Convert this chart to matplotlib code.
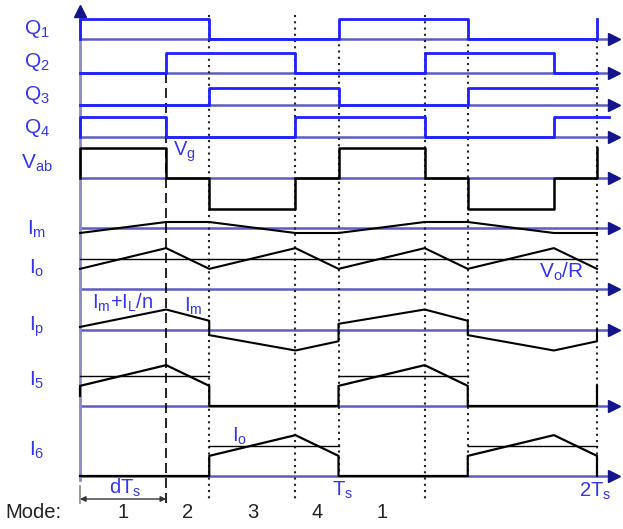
import numpy as np
import matplotlib
matplotlib.use('Agg')
import matplotlib.pyplot as plt

plt.rcParams['font.family'] = ['Liberation Sans', 'DejaVu Sans']
plt.rcParams['mathtext.fontset'] = 'custom'
plt.rcParams['mathtext.rm'] = 'Liberation Sans'
plt.rcParams['mathtext.it'] = 'Liberation Sans'
plt.rcParams['mathtext.default'] = 'regular'

d = 1 / 3
# switching instants, in units of Ts
t_sw = [0, d, 0.5, 0.5 + d, 1, 1 + d, 1.5, 1.5 + d, 2]

# gate / bridge states per interval
q1 = [1, 1, 0, 0, 1, 1, 0, 0]
q2 = [0, 1, 1, 0, 0, 1, 1, 0]
q3 = [0, 0, 1, 1, 0, 0, 1, 1]
q4 = [1, 0, 0, 1, 1, 0, 0, 1]
vab = [1, 0, -1, 0, 1, 0, -1, 0]

# currents at the switching instants
im = [-1, 1, 1, -1, -1, 1, 1, -1, -1]
io = [0.66, 1.34, 0.66, 1.34, 0.66, 1.34, 0.66, 1.34, 0.66]

t_ip = [0, d, 0.5, 0.5, 0.5 + d, 1, 1, 1 + d, 1.5, 1.5, 1.5 + d, 2, 2]
ip = [0.15, 1.0, 0.45, -0.25, -1.0, -0.55, 0.3, 1.0, 0.45, -0.25, -1.0, -0.55, 0]

t_i5 = [0, 0, d, 0.5, 0.5, 1, 1, 1 + d, 1.5, 1.5, 2, 2]
i5 = [0.33, 0.66, 1.34, 0.66, 0, 0, 0.66, 1.34, 0.66, 0, 0, 0.66]
t_i6 = [0, 0.5, 0.5, 0.5 + d, 1, 1, 1.5, 1.5, 1.5 + d, 2, 2]
i6 = [0, 0, 0.66, 1.34, 0.66, 0, 0, 0.66, 1.34, 0.66, 0]

mode_t = [d / 2, d + (0.5 - d) / 2, 0.5 + d / 2, 0.5 + d + (0.5 - d) / 2, 1 + d / 2]
mode_lbl = ['1', '2', '3', '4', '1']

BLUE = '#1f1fff'
AXC = '#5c5cc4'
ARR = '#14148c'
TXT = '#3535f0'

X0, W = 80, 258.5   # pixel origin and pixels per Ts


def tx(px):
    return (px - X0) / W


fig = plt.figure(figsize=(6.23, 5.29), dpi=100)
ax = fig.add_axes([0, 0, 1, 1])
ax.set_xlim(tx(0), tx(623))
ax.set_ylim(529, 0)
ax.axis('off')

# row axes (baseline px)
rows = {'Q1': 39, 'Q2': 73, 'Q3': 105, 'Q4': 137, 'Vab': 178,
        'Im': 227.5, 'Io': 289, 'Ip': 330, 'I5': 406, 'I6': 476}
for name, yb in rows.items():
    ax.plot([0, tx(613)], [yb, yb], color=AXC, lw=1.8, zorder=1)
    ax.plot(tx(614), yb, marker='>', color=ARR, ms=9, mec=ARR, zorder=3)

# vertical axis
ax.plot([0, 0], [480, 14], color='#8a8ac8', lw=2, zorder=1)
ax.plot(0, 11, marker='^', color=ARR, ms=9, zorder=3)

# gate signals
def gate(states, yb, amp, start_low=False, end_up=False, t_end=2):
    t = list(t_sw[:-1]) + [t_end]
    y = list(states) + [states[-1]]
    if start_low:
        t = [0] + t
        y = [0] + y
    if end_up:
        t = t + [t_end]
        y = y + [1]
    ax.plot(t, [yb - amp * v for v in y], drawstyle='steps-post',
            color=BLUE, lw=2, zorder=2)

gate(q1, rows['Q1'], 20, start_low=True, end_up=True)
gate(q2, rows['Q2'], 20)
gate(q3, rows['Q3'], 17)
gate(q4, rows['Q4'], 20, start_low=True, t_end=tx(609))

# Vab
tv = [0] + list(t_sw[:-1]) + [2, 2]
yv = [0] + list(vab) + [vab[-1], 1]
ax.plot(tv, [rows['Vab'] - 30.5 * v for v in yv], drawstyle='steps-post',
        color='black', lw=1.8, zorder=2)

# currents
ax.plot(t_sw, [rows['Im'] - 5.5 * v for v in im], color='black', lw=1.5, zorder=2)
ax.plot([0, 2], [rows['Io'] - 30.5] * 2, color='black', lw=1, zorder=2)
ax.plot(t_sw, [rows['Io'] - 30.5 * v for v in io], color='black', lw=1.5, zorder=2)
ax.plot(t_ip, [rows['Ip'] - 20.5 * v for v in ip], color='black', lw=1.5, zorder=2)

for a, b in [(0, 0.5), (1, 1.5)]:
    ax.plot([a, b], [rows['I5'] - 30.5] * 2, color='black', lw=1, zorder=2)
for a, b in [(0.5, 1), (1.5, 2)]:
    ax.plot([a, b], [rows['I6'] - 30.5] * 2, color='black', lw=1, zorder=2)
ax.plot(t_i5, [rows['I5'] - 30.5 * v for v in i5], color='black', lw=1.6, zorder=2)
ax.plot(t_i6, [rows['I6'] - 30.5 * v for v in i6], color='black', lw=1.6, zorder=2)

# dotted / dashed markers
for t, y0, y1 in [(0.5, 15, 500), (0.5 + d, 15, 500), (1, 38, 475),
                  (1 + d, 15, 502), (1.5, 38, 477), (2, 40, 477)]:
    ax.plot([t, t], [y0, y1], color='#222222', lw=1.5, ls=(0, (1, 2)), zorder=1.5)
ax.plot([d, d], [73, 503], color='black', lw=1.2, ls=(0, (6, 3)), zorder=1.5)

# dTs dimension
ax.plot([0, 0], [486, 503], color='#888888', lw=1.2)
ax.annotate('', xy=(0, 499), xytext=(d, 499),
            arrowprops=dict(arrowstyle='<|-|>', color='#333333', lw=1,
                            mutation_scale=8, shrinkA=0, shrinkB=0))
ax.text(tx(125), 488, 'dT$_s$', color=TXT, fontsize=14.5, ha='center', va='center')

# row labels
labels = [('Q$_1$', 29), ('Q$_2$', 62), ('Q$_3$', 95), ('Q$_4$', 128),
          ('V$_{ab}$', 163), ('I$_m$', 229), ('I$_o$', 268), ('I$_p$', 327),
          ('I$_5$', 380), ('I$_6$', 450)]
for s, y in labels:
    ax.text(tx(37), y, s, color=TXT, fontsize=15, ha='center', va='center')

ax.text(tx(173), 152, 'V$_g$', color=TXT, fontsize=14.5, ha='left', va='center')
ax.text(tx(92), 303, 'I$_m$+I$_L$/n', color=TXT, fontsize=14.5, ha='left', va='center')
ax.text(tx(184), 306, 'I$_m$', color=TXT, fontsize=14.5, ha='left', va='center')
ax.text(tx(539), 272, 'V$_o$/R', color=TXT, fontsize=15, ha='left', va='center')
ax.text(tx(232), 436, 'I$_o$', color=TXT, fontsize=14.5, ha='left', va='center')
ax.text(tx(332), 490, 'T$_s$', color=TXT, fontsize=14.5, ha='left', va='center')
ax.text(tx(579), 491, '2T$_s$', color=TXT, fontsize=14.5, ha='left', va='center')

ax.text(tx(5), 513, 'Mode:', color='#222222', fontsize=14.5, ha='left', va='center')
for t, s in zip(mode_t, mode_lbl):
    ax.text(t, 513, s, color='#222222', fontsize=14.5, ha='center', va='center')

fig.savefig('out.png', dpi=100)
